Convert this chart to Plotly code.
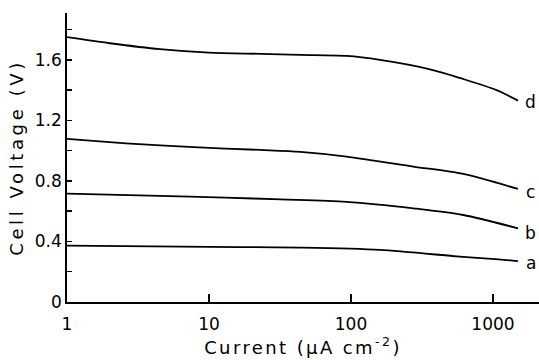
import plotly.graph_objects as go

# ---- data ----
current_d = [1, 2, 4.5, 10, 23, 44, 93, 160, 360, 617, 1060, 1500]
voltage_d = [1.750, 1.710, 1.671, 1.648, 1.640, 1.633, 1.626, 1.600, 1.538, 1.474, 1.400, 1.331]

current_c = [1, 2.6, 7.8, 23, 44, 93, 275, 617, 1500]
voltage_c = [1.078, 1.049, 1.023, 1.005, 0.992, 0.961, 0.895, 0.846, 0.747]

current_b = [1, 4.5, 13, 32, 93, 275, 617, 1500]
voltage_b = [0.716, 0.702, 0.690, 0.678, 0.662, 0.619, 0.575, 0.487]

current_a = [1, 6.3, 44, 160, 617, 1100, 1500]
voltage_a = [0.372, 0.366, 0.359, 0.344, 0.298, 0.282, 0.270]

curve_labels = ["a", "b", "c", "d"]
label_y = [0.258, 0.454, 0.729, 1.325]

x_tickvals = [1, 10, 100, 1000]
x_ticktext = ["1", "10", "100", "1000"]
y_tickvals = [0, 0.4, 0.8, 1.2, 1.6]
y_ticktext = ["0", "0.4", "0.8", "1.2", "1.6"]

FONT = "DejaVu Sans, sans-serif"

fig = go.Figure()
for xs, ys in [(current_a, voltage_a), (current_b, voltage_b),
               (current_c, voltage_c), (current_d, voltage_d)]:
    fig.add_trace(go.Scatter(x=xs, y=ys, mode="lines",
                             line=dict(color="black", width=1.8, shape="spline", smoothing=0.8),
                             showlegend=False, hoverinfo="skip"))

for lab, ly in zip(curve_labels, label_y):
    fig.add_annotation(x=3.265, y=ly, xref="x", yref="y", text=lab, showarrow=False,
                       font=dict(family=FONT, size=17, color="black"),
                       xanchor="center", yanchor="middle")

fig.update_layout(
    width=539, height=360,
    margin=dict(l=67, r=0, t=13, b=58),
    paper_bgcolor="white", plot_bgcolor="white",
    font=dict(family=FONT, size=17, color="black"),
)

fig.update_xaxes(
    type="log", range=[0, 3.324],
    tickvals=x_tickvals, ticktext=x_ticktext,
    ticks="inside", ticklen=8, tickwidth=1.5, tickcolor="black",
    ticklabelstandoff=6,
    showline=True, linecolor="black", linewidth=1.8,
    showgrid=False, zeroline=False,
    title=dict(text="Current (μA cm<sup>-2</sup>)", font=dict(family=FONT, size=18), standoff=4),
    automargin=False,
)
fig.update_yaxes(
    range=[0, 1.91],
    tickvals=y_tickvals, ticktext=y_ticktext,
    ticks="inside", ticklen=5, tickwidth=1.5, tickcolor="black",
    minor=dict(dtick=0.2, tick0=0, ticks="inside", ticklen=5, tickwidth=1.5, tickcolor="black", showgrid=False),
    showline=True, linecolor="black", linewidth=1.8,
    showgrid=False, zeroline=False,
    title=dict(text="Cell Voltage (V)", font=dict(family=FONT, size=18), standoff=6),
    automargin=False,
)

post = (
    "document.body.style.margin='0';document.body.style.overflow='hidden';"
    "document.querySelectorAll('.ytitle').forEach(function(e){e.style.letterSpacing='3.6px';});"
    "document.querySelectorAll('.xtitle').forEach(function(e){e.style.letterSpacing='2.4px';});"
)

fig.write_html("out.html", post_script=post,
               config={"displayModeBar": False, "staticPlot": True})
